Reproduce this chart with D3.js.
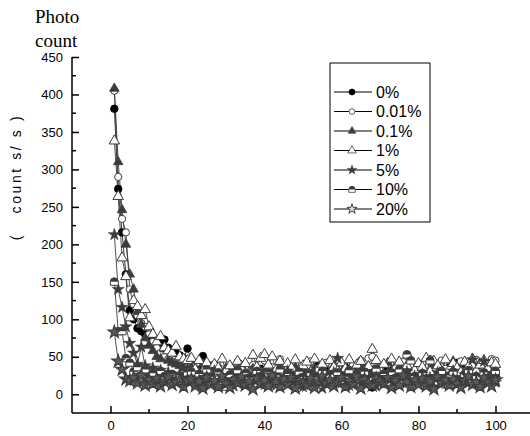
<!DOCTYPE html>
<html><head><meta charset="utf-8">
<script src="https://cdn.jsdelivr.net/npm/d3@7"></script>
<style>body{margin:0;background:#fff}svg{display:block}</style>
</head><body>
<svg id="c" width="530" height="436"></svg>
<script>
const seriesNames = ["0%", "0.01%", "0.1%", "1%", "5%", "10%", "20%"];
const xTicks = [0, 20, 40, 60, 80, 100];
const yTicks = [0, 50, 100, 150, 200, 250, 300, 350, 400, 450];

const s0 = [381,274,216,160,112,100,88,84,80,76, 72,70,68,73,62,58,55,52,48,61,
  45,40,33,51,30,38,26,35,22,31, 20,33,27,16,36,24,30,18,34,25,
  38,21,29,43,19,32,24,36,17,28, 33,20,27,38,15,31,23,35,19,29,
  36,18,30,22,39,16,27,9,33,21, 28,37,17,31,24,40,19,34,26,22,
  35,16,29,38,21,31,18,36,25,42, 20,33,27,17,37,23,30,19,34,26];
const s1 = [405,290,234,216,140,120,105,95,90,80, 70,62,55,50,47,44,42,40,38,36,
  38,27,42,24,35,20,40,29,33,22, 37,26,43,21,34,28,39,19,31,45,
  25,36,22,47,28,33,18,41,30,24, 38,44,21,35,27,42,23,32,46,26,
  34,20,39,28,45,31,48,50,25,36, 22,40,29,35,19,43,27,37,24,33,
  41,26,47,30,21,45,34,23,39,28, 44,31,25,38,46,29,36,22,47,45];
const s2 = [408,310,246,200,160,140,110,93,75,65, 58,50,47,60,45,42,40,38,35,33,
  36,22,30,40,19,33,25,28,17,35, 23,31,15,38,26,20,34,27,18,30,
  39,21,28,33,16,29,24,36,20,31, 25,18,34,27,37,21,30,16,32,24,
  35,19,28,23,38,26,17,31,22,29, 20,42,25,33,18,28,36,22,30,24,
  34,17,27,39,21,31,24,29,44,20, 32,23,37,19,28,41,25,30,18,27];
const s3 = [338,264,182,157,102,125,117,105,113,90, 80,70,77,62,58,55,64,50,47,45,
  48,33,45,30,42,28,40,35,47,31, 38,26,44,34,41,29,52,36,48,53,
  39,50,32,44,27,41,35,46,30,38, 43,29,47,33,40,25,45,36,31,42,
  34,46,28,39,44,30,37,60,45,32, 40,27,47,35,43,29,38,45,32,41,
  36,48,30,44,38,27,46,33,41,35, 29,43,37,47,31,39,45,34,42,40];
const s4 = [213,140,116,90,68,55,40,63,38,30, 35,26,32,22,29,24,18,27,21,25,
  28,15,24,12,26,18,31,14,22,17, 25,11,29,19,14,27,16,23,30,13,
  20,26,12,24,17,31,15,22,28,10, 23,16,27,13,8,25,19,29,48,15,
  26,12,24,18,30,14,21,27,11,23, 17,28,13,25,20,15,30,12,24,19,
  27,14,22,10,29,16,25,18,31,13, 21,26,15,46,23,12,44,19,28,16];
const s5 = [150,84,84,48,42,30,36,25,33,22, 28,19,31,24,20,27,18,25,22,29,
  30,16,27,20,33,14,25,29,18,10, 26,19,32,15,28,22,13,31,24,17,
  29,14,25,33,18,27,21,12,30,23, 17,28,24,13,31,20,26,15,29,19,
  25,32,16,27,21,30,14,23,34,18, 27,15,29,22,33,19,53,45,24,16,
  28,21,45,17,26,31,13,25,30,20, 16,27,32,19,24,14,29,22,18,31];
const s6 = [83,44,33,20,18,22,15,25,12,19, 14,21,11,17,23,13,16,20,10,18,
  20,11,17,8,22,13,18,10,24,14, 9,19,15,23,12,17,7,21,14,18,
  11,25,16,10,20,13,22,8,18,15, 12,21,9,17,24,14,19,11,16,22,
  10,18,13,23,8,20,15,12,21,17, 14,22,9,18,12,25,16,10,19,13,
  21,11,17,7,23,15,19,12,20,14, 9,18,24,13,16,10,22,15,11,19];
const allSeries = [s0, s1, s2, s3, s4, s5, s6];

const svg = d3.select("#c");
const x = d3.scaleLinear().domain([-10, 110]).range([72, 534]);
const y = d3.scaleLinear().domain([-25, 450]).range([413, 57]);
const dark = "#3c3c3c";

const starPath = (r) => d3.symbol().type(d3.symbolStar).size(r)();
function drawMarker(g, k, cx, cy, sc, legend) {
  const gg = g.append("g").attr("transform", `translate(${cx},${cy}) scale(${sc})`);
  if (k === 0) gg.append("circle").attr("r", 3.8).attr("fill", "#000").attr("stroke", "#000").attr("stroke-width", 0.8);
  else if (k === 1) gg.append("circle").attr("r", 3.6).attr("fill", "#fff").attr("stroke", dark).attr("stroke-width", 1);
  else if (k === 2) gg.append("path").attr("d", d3.symbol().type(d3.symbolTriangle).size(40)()).attr("fill", dark).attr("stroke", dark).attr("stroke-width", 0.8);
  else if (k === 3) gg.append("path").attr("d", d3.symbol().type(d3.symbolTriangle).size(48)()).attr("fill", "#fff").attr("stroke", dark).attr("stroke-width", 1);
  else if (k === 4) gg.append("path").attr("d", starPath(45)).attr("fill", dark).attr("stroke", dark).attr("stroke-width", 0.6);
  else if (k === 5) {
    gg.append("path").attr("d", "M-4,0 A4,4 0 0 1 4,0 L4,3.5 L-4,3.5 Z").attr("fill", "#fff").attr("stroke", dark).attr("stroke-width", 1);
    gg.append("path").attr("d", "M-4,0 A4,4 0 0 1 4,0 Z").attr("fill", dark);
  } else {
    gg.append("path").attr("d", starPath(50)).attr("fill", legend ? "#ddd" : "#5a5a5a").attr("stroke", dark).attr("stroke-width", 1.2);
  }
}

const plot = svg.append("g");
const line = d3.line().x((d, i) => x(i + 1)).y(d => y(d));
allSeries.forEach((vals, k) => {
  plot.append("path").datum(vals).attr("d", line).attr("fill", "none")
    .attr("stroke", k === 0 ? "#222" : dark).attr("stroke-width", 0.9);
});
allSeries.forEach((vals, k) => {
  const g = plot.append("g");
  vals.forEach((v, i) => drawMarker(g, k, x(i + 1), y(v), 1, false));
});

const font = "Arial, 'Liberation Sans', sans-serif";
const xAxis = svg.append("g").attr("transform", "translate(0,413)");
xAxis.append("line").attr("x1", 72).attr("x2", 530).attr("y1", 0).attr("y2", 0).attr("stroke", "#000").attr("stroke-width", 1.5);
xAxis.call(d3.axisBottom(x).tickValues(xTicks).tickSize(-7).tickPadding(8).tickFormat(d3.format("d")))
  .call(g => g.select(".domain").remove());
xAxis.selectAll(".tick line").attr("stroke-width", 1.5);
xAxis.selectAll("text").attr("font-family", font).attr("font-size", 13).attr("fill", "#000");
xAxis.selectAll(".minor").data([10, 30, 50, 70, 90]).enter().append("line")
  .attr("x1", d => x(d)).attr("x2", d => x(d)).attr("y1", 0).attr("y2", -4).attr("stroke", "#000").attr("stroke-width", 1.5);

const yAxis = svg.append("g").attr("transform", "translate(72,0)");
yAxis.append("line").attr("x1", 0).attr("x2", 0).attr("y1", y(450)).attr("y2", 413).attr("stroke", "#000").attr("stroke-width", 1.5);
yAxis.call(d3.axisLeft(y).tickValues(yTicks).tickSize(-7).tickPadding(9))
  .call(g => g.select(".domain").remove());
yAxis.selectAll(".tick line").attr("stroke-width", 1.5);
yAxis.selectAll("text").attr("font-family", font).attr("font-size", 13).attr("fill", "#000");
yAxis.selectAll(".minor").data([25, 75, 125, 175, 225, 275, 325, 375, 425]).enter().append("line")
  .attr("x1", 0).attr("x2", 4).attr("y1", d => y(d)).attr("y2", d => y(d)).attr("stroke", "#000").attr("stroke-width", 1.5);

const serif = "'Liberation Serif', 'Times New Roman', serif";
svg.append("text").attr("x", 35).attr("y", 23).text("Photo").attr("font-family", serif).attr("font-size", 19);
svg.append("text").attr("x", 35).attr("y", 47).text("count").attr("font-family", serif).attr("font-size", 19);
svg.append("text").attr("transform", "translate(16,177) rotate(-90)")
  .attr("text-anchor", "middle").attr("dominant-baseline", "central")
  .style("white-space", "pre").attr("letter-spacing", 2.6)
  .attr("font-family", font).attr("font-size", 14)
  .text("(   count s/ s )");

const lg = svg.append("g");
lg.append("rect").attr("x", 330).attr("y", 63).attr("width", 100).attr("height", 159)
  .attr("fill", "#fff").attr("stroke", "#000").attr("stroke-width", 1);
seriesNames.forEach((name, k) => {
  const ly = 92 + k * 19.5;
  lg.append("line").attr("x1", 334).attr("x2", 372).attr("y1", ly).attr("y2", ly).attr("stroke", "#000").attr("stroke-width", 1.2);
  drawMarker(lg, k, 352, ly, 0.8, true);
  lg.append("text").attr("x", 376).attr("y", ly).attr("dominant-baseline", "central")
    .attr("font-family", font).attr("font-size", 16).text(name);
});
</script>
</body></html>
